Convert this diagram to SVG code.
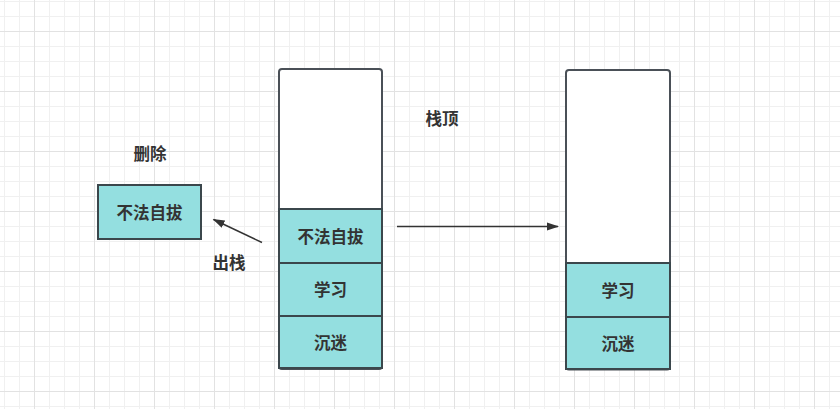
<svg xmlns="http://www.w3.org/2000/svg" width="840" height="409" viewBox="0 0 840 409">
<defs>
<pattern id="grid" x="4" y="1" width="60" height="60" patternUnits="userSpaceOnUse">
<path d="M15.5 0V60M45.5 0V60M0 15.5H60M0 45.5H60" stroke="#f0f0f0" stroke-width="1" fill="none"/>
<path d="M0.5 0V60M0 0.5H60" stroke="#f0f0f0" stroke-width="1" fill="none"/>
<path d="M30.5 0V60M0 30.5H60" stroke="#e2e2e2" stroke-width="1" fill="none"/>
</pattern>
<marker id="arrow" viewBox="0 0 12 10" refX="11" refY="5" markerWidth="12" markerHeight="10" markerUnits="userSpaceOnUse" orient="auto">
<path d="M0 1L12 5L0 9Z" fill="#333"/>
</marker>
<style>
.stack{fill:#fff;stroke:#4a5057;stroke-width:2}
.cell{fill:#94dfe0;stroke:#3b474c;stroke-width:2}
.t{font-family:"Noto Sans CJK SC","Liberation Sans",sans-serif;font-size:16.5px;font-weight:bold;fill:#333;text-anchor:middle;dominant-baseline:central}
.conn{stroke:#333;stroke-width:1.5;fill:none;marker-end:url(#arrow)}
</style>
</defs>
<rect width="840" height="409" fill="#fff"/>
<rect width="840" height="409" fill="url(#grid)"/>
<g id="stack-left">
<rect class="stack" x="279" y="69" width="103" height="300" rx="3"/>
<rect class="cell" x="279" y="209" width="103" height="54"/>
<rect class="cell" x="279" y="263" width="103" height="53"/>
<rect class="cell" x="279" y="316" width="103" height="52"/>
<text class="t" x="330.5" y="235.5">不法自拔</text>
<text class="t" x="330.5" y="289">学习</text>
<text class="t" x="330.5" y="341.5">沉迷</text>
</g>
<g id="stack-right">
<rect class="stack" x="566" y="70" width="104" height="299.5" rx="3"/>
<rect class="cell" x="566" y="263" width="104" height="54"/>
<rect class="cell" x="566" y="317" width="104" height="52"/>
<text class="t" x="618" y="289.5">学习</text>
<text class="t" x="618" y="342.5">沉迷</text>
</g>
<g id="deleted">
<rect class="cell" x="98" y="185" width="103" height="54"/>
<text class="t" x="149.5" y="211.5">不法自拔</text>
</g>
<g id="labels">
<text class="t" x="150" y="153">删除</text>
<text class="t" x="229" y="261.5">出栈</text>
<text class="t" x="442" y="117.5">栈顶</text>
</g>
<g id="connectors">
<line class="conn" x1="262" y1="242.5" x2="213.5" y2="219.5"/>
<line class="conn" x1="397" y1="226.5" x2="558" y2="226.5"/>
</g>
</svg>
